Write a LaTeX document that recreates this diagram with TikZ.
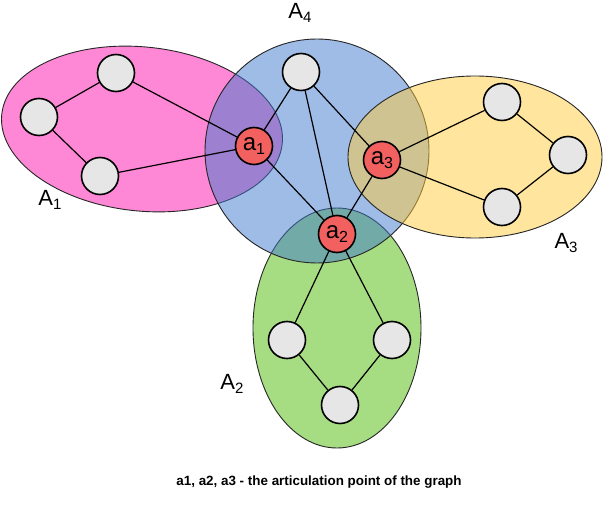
\documentclass[tikz,border=0pt]{standalone}
\usepackage{fontspec}
\setmainfont{Liberation Sans}
\usetikzlibrary{positioning}
\definecolor{pinkset}{RGB}{255,136,214}
\definecolor{greenset}{RGB}{166,220,130}
\definecolor{blueset}{RGB}{63,121,205}
\definecolor{yellowset}{RGB}{255,203,61}
\definecolor{nodegray}{RGB}{230,230,230}
\definecolor{cutred}{RGB}{243,96,96}
\newcommand{\idx}[2]{\raisebox{-0.16em}{\fontsize{#1}{#1}\selectfont #2}}
\tikzset{
  vertex/.style={circle, draw=black, line width=1.6pt, fill=nodegray, minimum size=37pt, inner sep=0pt},
  cutvertex/.style={vertex, fill=cutred, font=\fontsize{24}{24}\selectfont},
  edge/.style={line width=1.2pt},
  blob/.style={draw=black!85, line width=0.9pt},
  setlabel/.style={font=\fontsize{22}{22}\selectfont}
}

\begin{document}
\begin{tikzpicture}[x=1pt,y=-1pt]
  \useasboundingbox (0,0) rectangle (604,510);
  % the four blocks
  \filldraw[blob, fill=pinkset, rotate around={-6:(142,129)}] (142,129) ellipse [x radius=141pt, y radius=82pt];
  \filldraw[blob, fill=greenset] (337,328) ellipse [x radius=84pt, y radius=120pt];
  \filldraw[blob, fill=blueset, fill opacity=0.5] (317,151) circle [radius=112pt];
  \filldraw[blob, fill=yellowset, fill opacity=0.5] (475,157) ellipse [x radius=127pt, y radius=81pt];

  % vertices
  \node[vertex] (p1) at (116,73) {};
  \node[vertex] (p2) at (39,117) {};
  \node[vertex] (p3) at (100,176) {};
  \node[cutvertex] (a1) at (254,146) {a\idx{16pt}{1}};
  \node[vertex] (b1) at (301,72) {};
  \node[cutvertex] (a3) at (382,160) {a\idx{16pt}{3}};
  \node[cutvertex] (a2) at (337,234) {a\idx{16pt}{2}};
  \node[vertex] (y1) at (502,102) {};
  \node[vertex] (y2) at (568,155) {};
  \node[vertex] (y3) at (502,207) {};
  \node[vertex] (g1) at (287,340) {};
  \node[vertex] (g2) at (392,340) {};
  \node[vertex] (g3) at (340,405) {};

  % edges
  \foreach \u/\v in {p1/p2, p2/p3, p1/a1, p3/a1,
                     b1/a1, b1/a2, b1/a3, a1/a2, a3/a2,
                     a3/y1, y1/y2, y2/y3, y3/a3,
                     a2/g1, a2/g2, g1/g3, g2/g3}
    \draw[edge] (\u) -- (\v);

  % block labels
  \node[setlabel] (labA1) at (50,200) {A\idx{15pt}{1}};
  \node[setlabel] (labA2) at (232,384) {A\idx{15pt}{2}};
  \node[setlabel] (labA3) at (566,243) {A\idx{15pt}{3}};
  \node[setlabel] (labA4) at (300,13) {A\idx{15pt}{4}};

  \node[font=\bfseries\fontsize{13.4}{15}\selectfont] (caption) at (319,482) {a1, a2, a3 - the articulation point of the graph};
\end{tikzpicture}
\end{document}
